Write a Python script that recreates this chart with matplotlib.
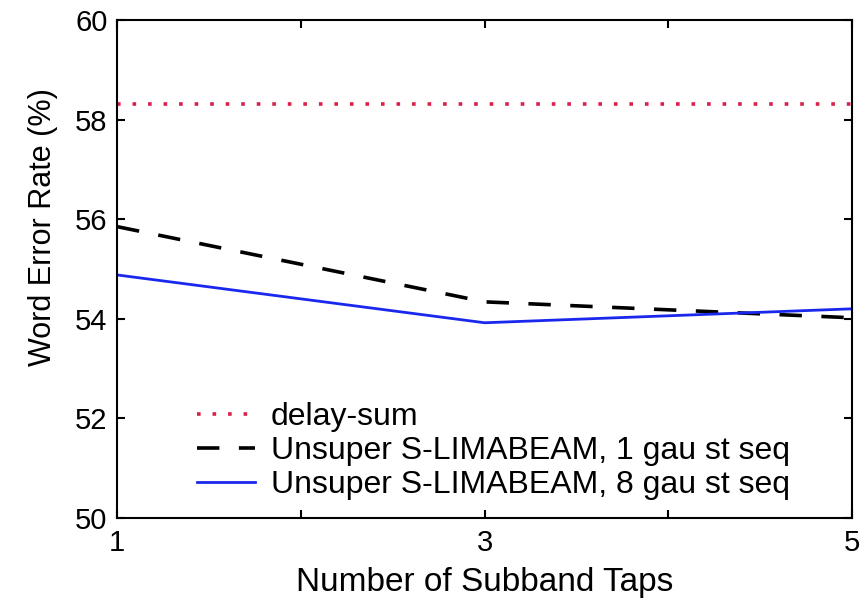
import matplotlib
matplotlib.use('Agg')
import matplotlib.pyplot as plt

# Data
taps = [1, 3, 5]
delay_sum = [58.32, 58.32, 58.32]
unsup_1gau = [55.85, 54.34, 54.02]
unsup_8gau = [54.88, 53.92, 54.20]

plt.rcParams['font.family'] = ['Liberation Sans', 'DejaVu Sans']

fig = plt.figure(figsize=(8.68, 6), dpi=100)
ax = fig.add_axes([0.135, 0.1367, 0.8466, 0.83])

ax.plot(taps, delay_sum, color='#dc1e4a', lw=2.6, linestyle=(0, (1, 3.3)),
        label='delay-sum')
ax.plot(taps, unsup_1gau, color='black', lw=2.6, linestyle=(0, (6.2, 5.4)),
        label='Unsuper S-LIMABEAM, 1 gau st seq')
ax.plot(taps, unsup_8gau, color='#1a28ee', lw=2.0, linestyle='-',
        label='Unsuper S-LIMABEAM, 8 gau st seq')

ax.set_xlim(1, 5)
ax.set_ylim(50, 60)
ax.set_xticks([1, 2, 3, 4, 5])
ax.set_xticklabels(['1', '', '3', '', '5'])
ax.set_yticks([50, 52, 54, 56, 58, 60])

ax.tick_params(direction='in', length=6, width=1.5, top=True, right=True,
               labelsize=21)
ax.tick_params(axis='y', pad=7)
ax.tick_params(axis='x', pad=8)
for s in ax.spines.values():
    s.set_linewidth(1.5)

ax.set_xlabel('Number of Subband Taps', fontsize=24, labelpad=7)
ax.set_ylabel('Word Error Rate (%)', fontsize=22)
ax.yaxis.set_label_coords(-0.08, 0.584)

ax.legend(loc='lower left', bbox_to_anchor=(0.109, 0.036), frameon=False,
          fontsize=23, handlelength=1.8, handletextpad=0.5,
          labelspacing=0.13, borderaxespad=0, borderpad=0)

fig.savefig('out.png', dpi=100)
